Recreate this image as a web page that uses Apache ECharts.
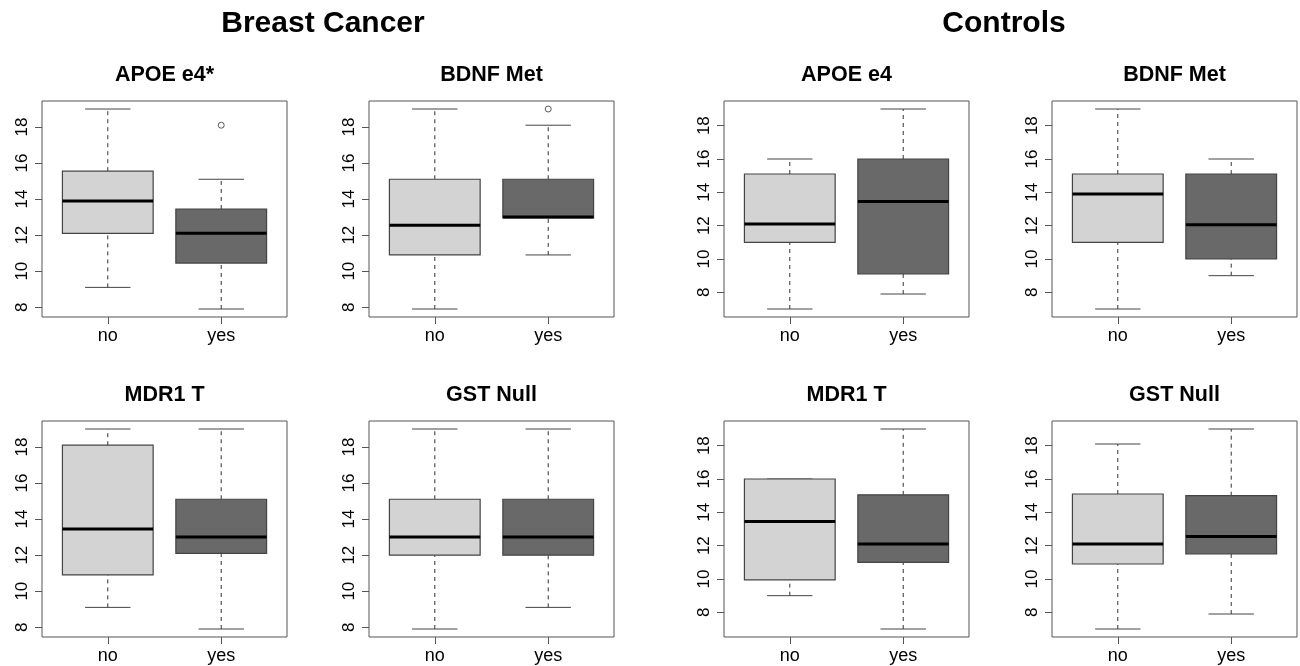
<!DOCTYPE html>
<html>
<head>
<meta charset="utf-8">
<script src="https://cdn.jsdelivr.net/npm/echarts@6/dist/echarts.min.js"></script>
<style>
html,body{margin:0;padding:0;background:#fff;}
#chart{width:1300px;height:666px;}
</style>
</head>
<body>
<div id="chart"></div>
<script>
// ---------- DATA ----------
const groupTitles = ['Breast Cancer', 'Controls'];
const panelTitles = ['APOE e4*', 'BDNF Met', 'APOE e4', 'BDNF Met', 'MDR1 T', 'GST Null', 'MDR1 T', 'GST Null'];
const categories = ['no', 'yes'];
const yTicks = [8, 10, 12, 14, 16, 18];

// box stats: [lower whisker, Q1, median, Q3, upper whisker] for "no" and "yes"
const bcApoeNo   = [9.1, 12.1, 13.9, 15.55, 19.0];
const bcApoeYes  = [7.9, 10.45, 12.1, 13.45, 15.1];
const bcBdnfNo   = [7.9, 10.9, 12.55, 15.1, 19.0];
const bcBdnfYes  = [10.9, 12.95, 13.0, 15.1, 18.1];
const ctApoeNo   = [7.0, 11.0, 12.1, 15.1, 16.0];
const ctApoeYes  = [7.9, 9.1, 13.45, 16.0, 19.0];
const ctBdnfNo   = [7.0, 11.0, 13.9, 15.1, 19.0];
const ctBdnfYes  = [9.0, 10.0, 12.05, 15.1, 16.0];
const bcMdrNo    = [9.1, 10.9, 13.45, 18.1, 19.0];
const bcMdrYes   = [7.9, 12.1, 13.0, 15.1, 19.0];
const bcGstNo    = [7.9, 12.0, 13.0, 15.1, 19.0];
const bcGstYes   = [9.1, 12.0, 13.0, 15.1, 19.0];
const ctMdrNo    = [9.0, 9.95, 13.45, 16.0, 16.0];
const ctMdrYes   = [7.0, 11.0, 12.1, 15.05, 19.0];
const ctGstNo    = [7.0, 10.9, 12.1, 15.1, 18.1];
const ctGstYes   = [7.9, 11.5, 12.55, 15.0, 19.0];

// outliers: [category index (1=no, 2=yes), value]
const bcApoeOut = [[2, 18.1]];
const bcBdnfOut = [[2, 19.0]];
const noOut = [];

const panelBoxes = [
  [bcApoeNo, bcApoeYes], [bcBdnfNo, bcBdnfYes], [ctApoeNo, ctApoeYes], [ctBdnfNo, ctBdnfYes],
  [bcMdrNo, bcMdrYes], [bcGstNo, bcGstYes], [ctMdrNo, ctMdrYes], [ctGstNo, ctGstYes]
];
const panelOutliers = [bcApoeOut, bcBdnfOut, noOut, noOut, noOut, noOut, noOut, noOut];

// ---------- LAYOUT / STYLE ----------
const FONT = '"Liberation Sans", Arial, Helvetica, sans-serif';
const fills = ['#d3d3d3', '#696969'];
const frameColor = '#555';
const colLefts = [42, 369, 724, 1052];
const plotW = 245;
const rowTops = [101, 421];
const plotH = 216;
const groupCenters = [323, 1004];
const titleRowY = [75, 395];

const grids = [], xAxes = [], yAxes = [], series = [], graphics = [];

groupTitles.forEach((t, i) => {
  graphics.push({
    type: 'text', x: groupCenters[i], y: 24,
    style: { text: t, font: 'bold 30px ' + FONT, fill: '#000', textAlign: 'center', textVerticalAlign: 'middle' }
  });
});

for (let p = 0; p < 8; p++) {
  const col = p % 4, row = Math.floor(p / 4);
  const left = colLefts[col], top = rowTops[row];
  grids.push({ left: left, top: top, width: plotW, height: plotH, show: true, borderColor: frameColor, borderWidth: 1, backgroundColor: 'transparent' });

  // R-style 4% range extension
  const vals = [];
  panelBoxes[p].forEach(b => vals.push(b[0], b[4]));
  panelOutliers[p].forEach(o => vals.push(o[1]));
  const lo = Math.min(...vals), hi = Math.max(...vals);
  const pad = 0.04 * (hi - lo);

  xAxes.push({
    gridIndex: p, type: 'value', min: 0.42, max: 2.58,
    axisLine: { show: false },
    splitLine: { show: false },
    axisTick: { show: true, inside: false, length: 7, lineStyle: { color: frameColor, width: 1 }, customValues: [1, 2] },
    axisLabel: { show: true, customValues: [1, 2], margin: 10, fontSize: 18, fontFamily: FONT, color: '#000',
      formatter: v => categories[Math.round(v) - 1] }
  });
  yAxes.push({
    gridIndex: p, type: 'value', min: lo - pad, max: hi + pad,
    axisLine: { show: false },
    splitLine: { show: false },
    axisTick: { show: true, inside: false, length: 7, lineStyle: { color: frameColor, width: 1 }, customValues: yTicks },
    axisLabel: { show: true, customValues: yTicks, rotate: 90, margin: 11, fontSize: 17, fontFamily: FONT, color: '#000' }
  });

  const data = panelBoxes[p].map((b, i) => [i + 1, b[0], b[1], b[2], b[3], b[4], i]);
  series.push({
    type: 'custom', xAxisIndex: p, yAxisIndex: p,
    encode: { x: 0, y: [1, 2, 3, 4, 5] },
    data: data,
    renderItem: function (params, api) {
      const x = api.value(0);
      const lw = api.value(1), q1 = api.value(2), md = api.value(3), q3 = api.value(4), hw = api.value(5);
      const fill = fills[api.value(6)];
      const c = (xx, yy) => api.coord([xx, yy]);
      const pL = c(x - 0.4, q3), pR = c(x + 0.4, q1);
      const children = [];
      if (q1 > lw) {
        const a = c(x, lw), b = c(x, q1);
        children.push({ type: 'line', shape: { x1: a[0], y1: a[1], x2: b[0], y2: b[1] }, style: { stroke: '#333', lineWidth: 1, lineDash: [4, 4] } });
      }
      if (hw > q3) {
        const a = c(x, q3), b = c(x, hw);
        children.push({ type: 'line', shape: { x1: a[0], y1: a[1], x2: b[0], y2: b[1] }, style: { stroke: '#333', lineWidth: 1, lineDash: [4, 4] } });
      }
      [lw, hw].forEach(v => {
        const a = c(x - 0.2, v), b = c(x + 0.2, v);
        children.push({ type: 'line', shape: { x1: a[0], y1: a[1], x2: b[0], y2: b[1] }, style: { stroke: '#444', lineWidth: 1 } });
      });
      children.push({ type: 'rect', shape: { x: pL[0], y: pL[1], width: pR[0] - pL[0], height: pR[1] - pL[1] }, style: { fill: fill, stroke: '#444', lineWidth: 1.2 } });
      const m1 = c(x - 0.4, md), m2 = c(x + 0.4, md);
      children.push({ type: 'line', shape: { x1: m1[0], y1: m1[1], x2: m2[0], y2: m2[1] }, style: { stroke: '#000', lineWidth: 3 } });
      return { type: 'group', children: children };
    },
    silent: true, animation: false
  });

  if (panelOutliers[p].length) {
    series.push({
      type: 'scatter', xAxisIndex: p, yAxisIndex: p,
      data: panelOutliers[p],
      symbol: 'circle', symbolSize: 6,
      itemStyle: { color: '#fff', borderColor: '#333', borderWidth: 1 },
      silent: true, animation: false
    });
  }

  graphics.push({
    type: 'text', x: left + plotW / 2, y: titleRowY[row],
    style: { text: panelTitles[p], font: 'bold 21.5px ' + FONT, fill: '#000', textAlign: 'center', textVerticalAlign: 'middle' }
  });
}

const chart = echarts.init(document.getElementById('chart'), null, { renderer: 'canvas' });
chart.setOption({
  animation: false,
  backgroundColor: '#fff',
  grid: grids,
  xAxis: xAxes,
  yAxis: yAxes,
  series: series,
  graphic: graphics
});
</script>
</body>
</html>
